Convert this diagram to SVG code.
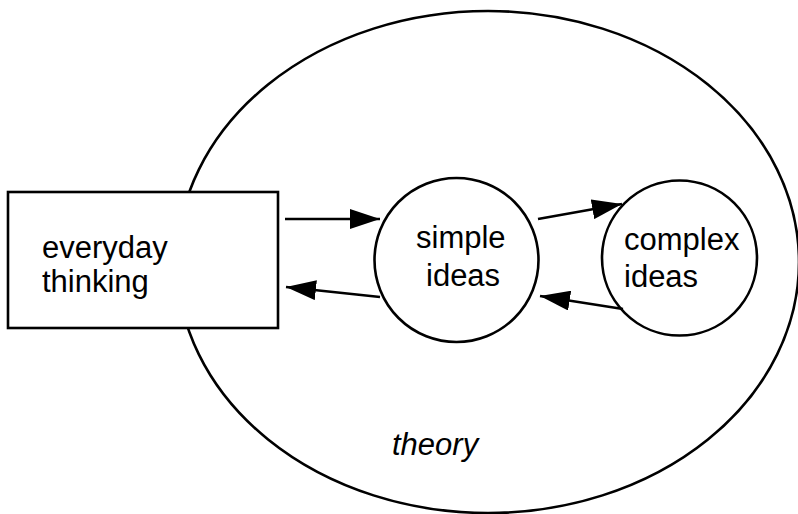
<svg xmlns="http://www.w3.org/2000/svg" width="798" height="514" viewBox="0 0 798 514">
<style>
.shape{fill:#fff;stroke:#000;stroke-width:2.6}
.lbl{font-family:"Liberation Sans",Arial,sans-serif;font-size:31px;fill:#000}
.conn{stroke:#000;stroke-width:2.6;fill:none;marker-end:url(#ah)}
</style>
<defs>
<marker id="ah" viewBox="0 0 30 20" refX="30" refY="10" markerWidth="30" markerHeight="20" markerUnits="userSpaceOnUse" orient="auto">
<path d="M0,0 L30,10 L0,20 Z" fill="#000"/>
</marker>
</defs>
<g id="theory">
<ellipse class="shape" cx="488" cy="262" rx="311" ry="251"/>
<text class="lbl" x="392" y="455" font-style="italic">theory</text>
</g>
<g id="everyday">
<rect class="shape" x="8" y="192" width="270" height="136"/>
<text class="lbl" x="42" y="258">everyday</text>
<text class="lbl" x="42" y="292">thinking</text>
</g>
<g id="simple">
<circle class="shape" cx="456.5" cy="260" r="82"/>
<text class="lbl" x="416" y="248">simple</text>
<text class="lbl" x="426" y="286">ideas</text>
</g>
<g id="complex">
<circle class="shape" cx="679.5" cy="258" r="77.5"/>
<text class="lbl" x="624" y="250">complex</text>
<text class="lbl" x="624" y="287">ideas</text>
</g>
<g id="connectors">
<line class="conn" x1="285" y1="219" x2="380" y2="219"/>
<line class="conn" x1="380" y1="297" x2="286" y2="287"/>
<line class="conn" x1="538" y1="219" x2="622" y2="204"/>
<line class="conn" x1="623" y1="309" x2="540" y2="296"/>
</g>
</svg>
